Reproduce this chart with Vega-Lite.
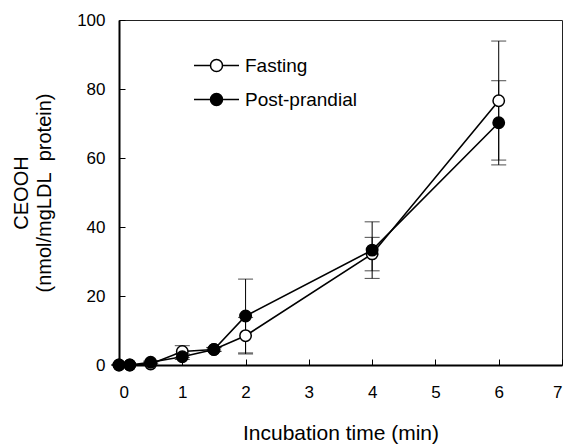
{
  "$schema": "https://vega.github.io/schema/vega-lite/v6.json",
  "autosize": "none",
  "width": 443,
  "height": 345,
  "padding": {"left": 119, "top": 20, "right": 5, "bottom": 79},
  "background": "white",
  "config": {
    "font": "Liberation Sans",
    "view": {"stroke": "#222", "strokeWidth": 1},
    "axis": {
      "grid": false,
      "domainColor": "black",
      "domainWidth": 2,
      "tickColor": "black",
      "tickWidth": 1,
      "tickSize": -6,
      "labelColor": "black",
      "titleColor": "black",
      "labelFontSize": 17,
      "labelFont": "Liberation Sans",
      "titleFont": "Liberation Sans",
      "titleFontWeight": "normal"
    }
  },
  "data": {
    "values": [
      {"t": 0, "series": "Fasting", "v": 0, "lo": 0, "hi": 0},
      {"t": 0.17, "series": "Fasting", "v": 0, "lo": 0, "hi": 0},
      {"t": 0.5, "series": "Fasting", "v": 0.3, "lo": 0, "hi": 0.6},
      {"t": 1, "series": "Fasting", "v": 3.9, "lo": 2.2, "hi": 5.6},
      {"t": 1.5, "series": "Fasting", "v": 4.5, "lo": 4.0, "hi": 5.0},
      {"t": 2, "series": "Fasting", "v": 8.5, "lo": 3.2, "hi": 13.8},
      {"t": 4, "series": "Fasting", "v": 32.2, "lo": 27.3, "hi": 37.0},
      {"t": 6, "series": "Fasting", "v": 76.6, "lo": 59.4, "hi": 93.9},
      {"t": 0, "series": "Post-prandial", "v": 0, "lo": 0, "hi": 0},
      {"t": 0.17, "series": "Post-prandial", "v": 0, "lo": 0, "hi": 0},
      {"t": 0.5, "series": "Post-prandial", "v": 0.8, "lo": 0.5, "hi": 1.1},
      {"t": 1, "series": "Post-prandial", "v": 2.4, "lo": 1.6, "hi": 3.2},
      {"t": 1.5, "series": "Post-prandial", "v": 4.5, "lo": 3.9, "hi": 5.1},
      {"t": 2, "series": "Post-prandial", "v": 14.2, "lo": 3.5, "hi": 24.9},
      {"t": 4, "series": "Post-prandial", "v": 33.3, "lo": 25.1, "hi": 41.5},
      {"t": 6, "series": "Post-prandial", "v": 70.2, "lo": 58.0, "hi": 82.4}
    ]
  },
  "encoding": {
    "x": {
      "field": "t", "type": "quantitative",
      "scale": {"domain": [0, 7], "nice": false, "zero": false},
      "axis": {"values": [0,1,2,3,4,5,6,7], "title": "Incubation time (min)", "titleFontSize": 21, "labelPadding": 25, "titlePadding": 22, "labelAngle": 0}
    }
  },
  "layer": [
    {
      "mark": {"type": "rule", "color": "black", "strokeWidth": 1},
      "encoding": {
        "y": {"field": "lo", "type": "quantitative"},
        "y2": {"field": "hi"}
      }
    },
    {
      "mark": {"type": "tick", "orient": "horizontal", "color": "black", "size": 15, "thickness": 1},
      "encoding": {"y": {"field": "lo", "type": "quantitative"}}
    },
    {
      "mark": {"type": "tick", "orient": "horizontal", "color": "black", "size": 15, "thickness": 1},
      "encoding": {"y": {"field": "hi", "type": "quantitative"}}
    },
    {
      "mark": {"type": "line", "color": "black", "strokeWidth": 1.6},
      "encoding": {
        "y": {"field": "v", "type": "quantitative"},
        "detail": {"field": "series"}
      }
    },
    {
      "mark": {"type": "point", "shape": "circle", "filled": true, "size": 130, "stroke": "black", "strokeWidth": 1.5, "opacity": 1},
      "encoding": {
        "y": {
          "field": "v", "type": "quantitative",
          "scale": {"domain": [0, 100], "nice": false},
          "axis": {"values": [0,20,40,60,80,100], "title": ["CEOOH", "(nmol/mgLDL\u00a0 protein)"], "titleFontSize": 20, "titleLineHeight": 23, "labelPadding": 20, "titlePadding": 22}
        },
        "fill": {
          "field": "series", "type": "nominal",
          "scale": {"domain": ["Fasting", "Post-prandial"], "range": ["white", "black"]},
          "legend": {
            "title": null,
            "orient": "none",
            "legendX": 74,
            "legendY": 22,
            "padding": 0,
            "symbolType": "M-1,0L-0.267,0M0.267,0L1,0M-0.267,0A0.267,0.267,0,1,1,0.267,0A0.267,0.267,0,1,1,-0.267,0Z",
            "symbolSize": 2025,
            "symbolStrokeColor": "black",
            "symbolStrokeWidth": 1.5,
            "labelFontSize": 19,
            "labelColor": "black",
            "labelOffset": 5,
            "rowPadding": -14
          }
        },
        "order": {"field": "series", "sort": "ascending"}
      }
    }
  ]
}
